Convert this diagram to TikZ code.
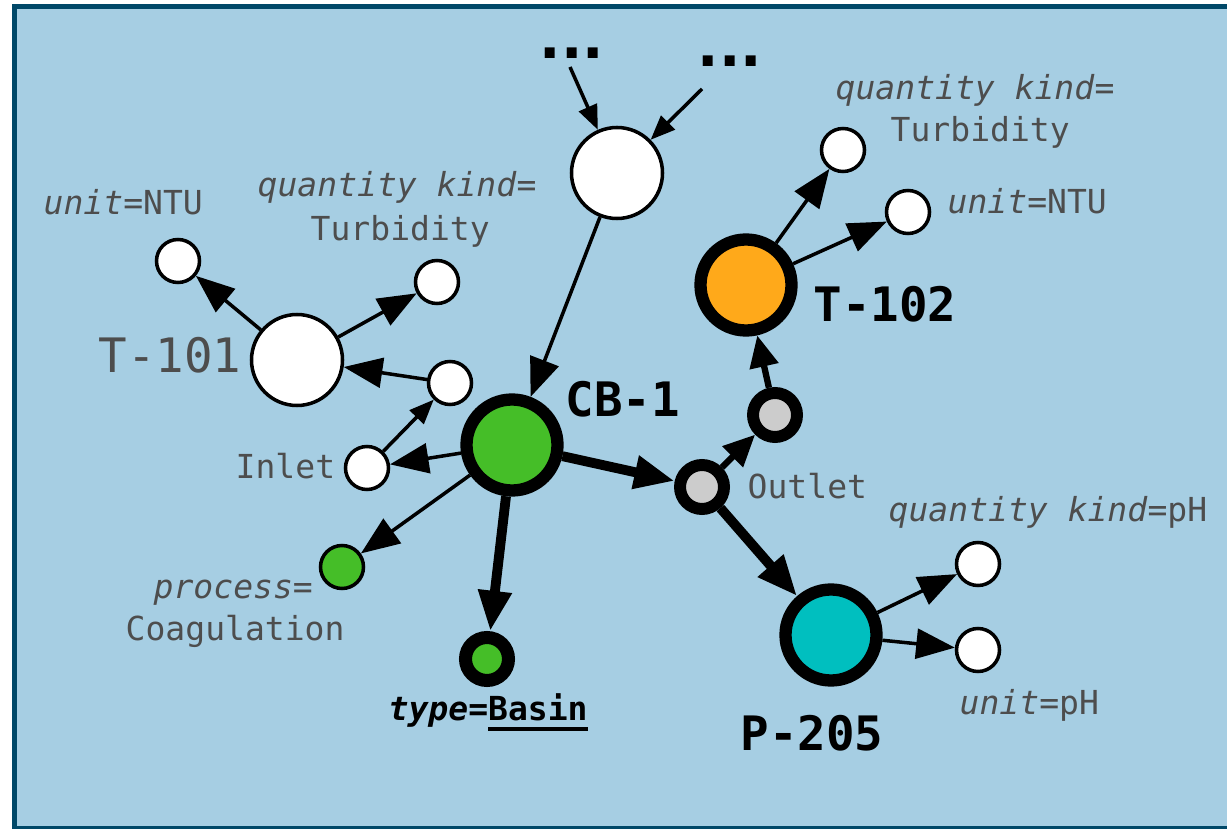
\documentclass[tikz,border=0pt]{standalone}
\usepackage{fontspec}
\setmainfont{DejaVu Sans Mono}
\newfontfamily\dotfont{DejaVu Sans}
\usetikzlibrary{arrows.meta}
\definecolor{bgblue}{RGB}{166,206,227}
\definecolor{frameblue}{RGB}{0,72,104}
\definecolor{txtgrey}{RGB}{77,77,77}
\definecolor{cbgreen}{RGB}{69,190,40}
\definecolor{torange}{RGB}{255,169,26}
\definecolor{pteal}{RGB}{0,191,191}
\definecolor{ogrey}{RGB}{204,204,204}
\newcommand\undl[1]{\setbox0\hbox{#1}\rlap{\rule[-3.2pt]{\wd0}{1.1pt}}\box0}

\begin{document}
\begin{tikzpicture}[attr/.style={circle,draw,fill=white,line width=1pt,minimum size=0.43cm,inner sep=0pt},
big/.style={circle,draw,fill=white,line width=1pt,minimum size=0.91cm,inner sep=0pt},
hub/.style={circle,draw,line width=3.5pt,minimum size=0.91cm,inner sep=0pt},
port/.style={circle,draw,fill=ogrey,line width=3.4pt,minimum size=0.44cm,inner sep=0pt},
lbl/.style={anchor=base west,inner sep=0pt,text=txtgrey,font=\fontsize{9.4}{11}\selectfont},
tag/.style={anchor=base west,inner sep=0pt,font=\fontsize{13.5}{16}\selectfont\bfseries},
more/.style={anchor=base west,inner sep=0pt,font=\dotfont\fontsize{16}{18}\selectfont\bfseries},
arr/.style={line width=1pt,-{Triangle[length=11pt,width=8.5pt]}},
fatarr/.style={line width=2.8pt,-{Triangle[length=11.5pt,width=9pt]}},
midarr/.style={line width=1.8pt,-{Triangle[length=9pt,width=8pt]}},
smallarr/.style={line width=1pt,-{Triangle[length=7pt,width=5.5pt]}}]

\useasboundingbox (0,0) rectangle (12.27,-8.29);
\fill[bgblue] (0.145,-0.065) rectangle (12.27,-8.29);
\draw[frameblue,line width=1.45pt] (12.27,-0.065) -- (0.145,-0.065) -- (0.145,-8.29);
\draw[frameblue,line width=1.45pt] (0.145,-8.29) -- (12.27,-8.29);

%upstream
\node[more] (dA) at (5.39,-0.59) {...};
\node[more] (dB) at (6.97,-0.67) {...};
\coordinate (dAs) at (5.70,-0.67);
\coordinate (dBs) at (7.02,-0.89);
\node[big] (Q) at (6.17,-1.73) {};

%CB-1
\node[hub,fill=cbgreen] (CB) at (5.12,-4.45) {};
\node[tag] (CBl) at (5.65,-4.17) {CB-1};

%T-101
\node[big] (T1) at (2.97,-3.60) {};
\node[lbl,font=\fontsize{13.5}{16}\selectfont] (T1l) at (0.98,-3.73) {T-101};
\node[attr] (T1u) at (1.78,-2.61) {};
\node[attr] (T1q) at (4.37,-2.82) {};
\node[lbl] (T1ul) at (0.43,-2.15) {\textit{unit}=NTU};
\node[lbl] (T1ql) at (2.57,-1.97) {\textit{quantity kind}=};
\node[lbl] (T1tl) at (3.10,-2.41) {Turbidity};

%inlet
\node[attr] (N1) at (4.50,-3.83) {};
\node[attr] (In) at (3.67,-4.68) {};
\node[lbl] (Inl) at (2.35,-4.78) {Inlet};

%process
\node[attr,fill=cbgreen] (Pr) at (3.42,-5.67) {};
\node[lbl] (Prl) at (1.53,-5.98) {\textit{process}=};
\node[lbl] (Col) at (1.25,-6.40) {Coagulation};

%type
\node[circle,draw,fill=cbgreen,line width=3.7pt,minimum size=0.43cm,inner sep=0pt] (Ty) at (4.87,-6.59) {};
\node[anchor=base west,inner sep=0pt,font=\fontsize{9.4}{11}\selectfont\bfseries] (Tyl) at (3.88,-7.20) {\textit{type}=\undl{Basin}};

%outlets
\node[port] (Out) at (7.02,-4.87) {};
\node[lbl] (Outl) at (7.47,-4.98) {Outlet};
\node[port] (G2) at (7.75,-4.15) {};

%T-102
\node[hub,fill=torange] (T2) at (7.46,-2.85) {};
\node[tag] (T2l) at (8.13,-3.22) {T-102};
\node[attr] (T2q) at (8.43,-1.50) {};
\node[attr] (T2u) at (9.08,-2.12) {};
\node[lbl] (T2ql) at (8.35,-1.00) {\textit{quantity kind}=};
\node[lbl] (T2tl) at (8.90,-1.42) {Turbidity};
\node[lbl] (T2ul) at (9.47,-2.14) {\textit{unit}=NTU};

%P-205
\node[hub,fill=pteal] (P) at (8.31,-6.35) {};
\node[tag] (Pl) at (7.40,-7.50) {P-205};
\node[attr] (Pq) at (9.78,-5.64) {};
\node[attr] (Pu) at (9.78,-6.50) {};
\node[lbl] (Pql) at (8.88,-5.22) {\textit{quantity kind}=pH};
\node[lbl] (Pul) at (9.59,-7.14) {\textit{unit}=pH};

\draw[smallarr] (dAs) -- (Q);
\draw[smallarr] (dBs) -- (Q);
\draw[arr] (Q) -- (CB);
\draw[arr] (T1) -- (T1u);
\draw[arr] (T1) -- (T1q);
\draw[arr] (N1) -- (T1);
\draw[smallarr] (In) -- (N1);
\draw[arr] (CB) -- (In);
\draw[arr] (CB) -- (Pr);
\draw[fatarr] (CB) -- (Ty);
\draw[fatarr] (CB) -- (Out);
\draw[midarr] (Out) -- (G2);
\draw[midarr] (G2) -- (T2);
\draw[arr] (T2) -- (T2q);
\draw[arr] (T2) -- (T2u);
\draw[fatarr] (Out) -- (P);
\draw[arr] (P) -- (Pq);
\draw[arr] (P) -- (Pu);
\end{tikzpicture}
\end{document}
